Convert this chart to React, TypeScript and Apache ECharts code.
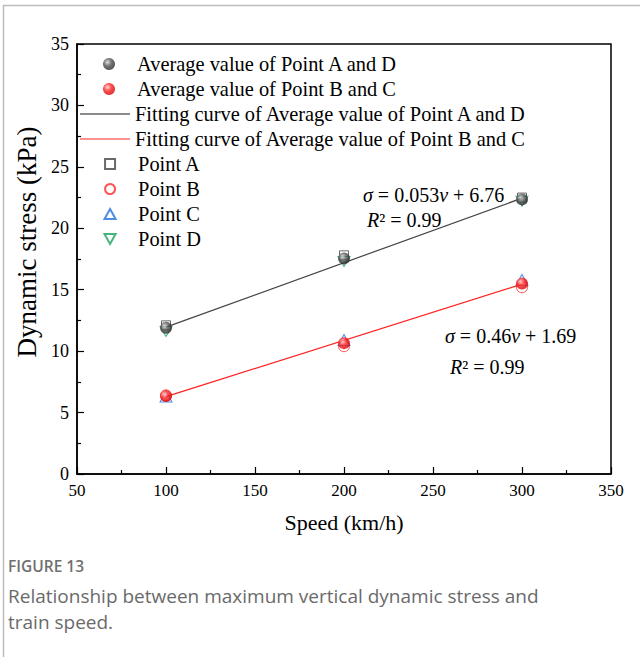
import React, { useEffect, useRef } from "react";
import * as echarts from "echarts";

const speeds = [100, 200, 300];
const pointA = [12.1, 17.8, 22.5];
const pointB = [6.4, 10.4, 15.2];
const pointC = [6.3, 10.9, 15.8];
const pointD = [11.6, 17.3, 22.2];
const avgAD = [11.9, 17.55, 22.35];
const avgBC = [6.35, 10.65, 15.5];
const fitSpeeds = [100, 300];
const fitAD = [11.95, 22.45];
const fitBC = [6.3, 15.45];

const nameAvgAD = "Average value of Point A and D";
const nameAvgBC = "Average value of Point B and C";
const nameFitAD = "Fitting curve of Average value of Point A and D";
const nameFitBC = "Fitting curve of Average value of Point B and C";
const nameA = "Point A";
const nameB = "Point B";
const nameC = "Point C";
const nameD = "Point D";

const SERIF = "'Liberation Serif', 'Times New Roman', serif";
const SANS = "'Open Sans', 'Noto Sans', sans-serif";

const pair = (xs: number[], ys: number[]) => xs.map((x, i) => [x, ys[i]]);

const sphere = (light: string, mid: string, dark: string) => ({
  type: "radial",
  x: 0.38,
  y: 0.35,
  r: 0.7,
  colorStops: [
    { offset: 0, color: light },
    { offset: 0.45, color: mid },
    { offset: 1, color: dark },
  ],
});

const squarePath = "path://M0,0 L10,0 L10,10 L0,10 Z";
const upTri = "path://M5,0 L10,9 L0,9 Z";
const downTri = "path://M0,0 L10,0 L5,9 Z";

export default function App() {
  const ref = useRef<HTMLDivElement>(null);
  useEffect(() => {
    if (!ref.current) return;
    const chart = echarts.init(ref.current, undefined, { renderer: "svg" });
    const legendText = () => ({ fontFamily: SERIF, fontSize: 20.4, color: "#000", lineHeight: 25 });
    const eqRich = {
      i: { fontFamily: SERIF, fontSize: 20, fontStyle: "italic", color: "#000" },
      n: { fontFamily: SERIF, fontSize: 20, color: "#000" },
    };
    chart.setOption({
      animation: false,
      backgroundColor: "#fff",
      grid: {
        left: 77,
        top: 44,
        width: 534,
        height: 430,
        show: true,
        borderColor: "#000",
        borderWidth: 1.5,
        backgroundColor: "transparent",
      },
      xAxis: {
        type: "value",
        min: 50,
        max: 350,
        interval: 50,
        name: "Speed (km/h)",
        nameLocation: "middle",
        nameGap: 37,
        nameTextStyle: { fontFamily: SERIF, fontSize: 22, color: "#000" },
        axisLine: { lineStyle: { color: "#000", width: 1.5 } },
        axisTick: { inside: true, length: 7, lineStyle: { color: "#000", width: 1.2 } },
        minorTick: { show: true, splitNumber: 2, length: 4, lineStyle: { color: "#000", width: 1.2 } },
        axisLabel: { fontFamily: SERIF, fontSize: 17, color: "#000", margin: 8 },
        splitLine: { show: false },
      },
      yAxis: {
        type: "value",
        min: 0,
        max: 35,
        interval: 5,
        name: "Dynamic stress (kPa)",
        nameLocation: "middle",
        nameGap: 26,
        nameTextStyle: { fontFamily: SERIF, fontSize: 27, color: "#000", padding: [0, 0, 0, 34] },
        axisLine: { show: true, lineStyle: { color: "#000", width: 1.5 } },
        axisTick: { show: true, inside: true, length: 7, lineStyle: { color: "#000", width: 1.2 } },
        minorTick: { show: true, splitNumber: 2, length: 4, lineStyle: { color: "#000", width: 1.2 } },
        axisLabel: { fontFamily: SERIF, fontSize: 18, color: "#000", margin: 8 },
        splitLine: { show: false },
      },
      legend: [
        {
          orient: "vertical",
          left: 103,
          top: 51.5,
          padding: 0,
          itemGap: 0,
          itemWidth: 46,
          itemHeight: 12,
          textStyle: legendText(),
          data: [
            { name: nameAvgAD, icon: "circle" },
            { name: nameAvgBC, icon: "circle" },
          ],
        },
        {
          orient: "vertical",
          left: 80,
          top: 101.5,
          padding: 0,
          itemGap: 0,
          itemWidth: 50,
          itemHeight: 1.3,
          symbolKeepAspect: false,
          textStyle: legendText(),
          data: [
            { name: nameFitAD, icon: "rect" },
            { name: nameFitBC, icon: "rect" },
          ],
        },
        {
          orient: "vertical",
          left: 103.5,
          top: 151.5,
          padding: 0,
          itemGap: 0,
          itemWidth: 46,
          itemHeight: 10,
          symbolKeepAspect: true,
          textStyle: legendText(),
          data: [
            { name: nameA, icon: squarePath },
            { name: nameB, icon: "circle" },
            { name: nameC, icon: upTri },
            { name: nameD, icon: downTri },
          ],
        },
      ],
      series: [
        {
          name: nameAvgAD,
          type: "scatter",
          symbol: "circle",
          symbolSize: 12,
          z: 5,
          itemStyle: { color: sphere("#d8d8d8", "#555", "#222") },
          data: pair(speeds, avgAD),
        },
        {
          name: nameAvgBC,
          type: "scatter",
          symbol: "circle",
          symbolSize: 12,
          z: 5,
          itemStyle: { color: sphere("#ffd0d0", "#f22", "#c00") },
          data: pair(speeds, avgBC),
        },
        {
          name: nameFitAD,
          type: "line",
          symbol: "none",
          z: 3,
          lineStyle: { color: "#444", width: 1.2 },
          itemStyle: { color: "#666" },
          data: pair(fitSpeeds, fitAD),
        },
        {
          name: nameFitBC,
          type: "line",
          symbol: "none",
          z: 3,
          lineStyle: { color: "#ff2020", width: 1.2 },
          itemStyle: { color: "#ff6b6b" },
          data: pair(fitSpeeds, fitBC),
        },
        {
          name: nameA,
          type: "scatter",
          symbol: "rect",
          symbolSize: 9,
          z: 2,
          itemStyle: { color: "rgba(255,255,255,0)", borderColor: "#444", borderWidth: 1 },
          data: pair(speeds, pointA),
        },
        {
          name: nameB,
          type: "scatter",
          symbol: "circle",
          symbolSize: 11,
          z: 2,
          itemStyle: { color: "rgba(255,255,255,0)", borderColor: "#ff2a2a", borderWidth: 1 },
          data: pair(speeds, pointB),
        },
        {
          name: nameC,
          type: "scatter",
          symbol: upTri,
          symbolSize: [12, 11],
          z: 2,
          itemStyle: { color: "rgba(255,255,255,0)", borderColor: "#1f6fe0", borderWidth: 1 },
          data: pair(speeds, pointC),
        },
        {
          name: nameD,
          type: "scatter",
          symbol: downTri,
          symbolSize: [12, 10],
          z: 2,
          itemStyle: { color: "rgba(255,255,255,0)", borderColor: "#16a05a", borderWidth: 1 },
          data: pair(speeds, pointD),
        },
      ],
      graphic: [
        { type: "line", shape: { x1: 3, y1: 5.5, x2: 640, y2: 5.5 }, style: { stroke: "#bdbdbd", lineWidth: 1.5 } },
        { type: "line", shape: { x1: 3.5, y1: 5, x2: 3.5, y2: 657 }, style: { stroke: "#bdbdbd", lineWidth: 1.5 } },
        {
          type: "text",
          x: 363,
          y: 195,
          style: {
            text: "{i|σ}{n| = 0.053}{i|v}{n| + 6.76}",
            rich: eqRich,
            verticalAlign: "middle",
          },
        },
        {
          type: "text",
          x: 367,
          y: 220,
          style: { text: "{i|R}{n|² = 0.99}", rich: eqRich, verticalAlign: "middle" },
        },
        {
          type: "text",
          x: 445,
          y: 336,
          style: {
            text: "{i|σ}{n| = 0.46}{i|v}{n| + 1.69}",
            rich: eqRich,
            verticalAlign: "middle",
          },
        },
        {
          type: "text",
          x: 450,
          y: 367,
          style: { text: "{i|R}{n|² = 0.99}", rich: eqRich, verticalAlign: "middle" },
        },
        {
          type: "text",
          x: 8,
          y: 566,
          style: {
            text: "FIGURE 13",
            fontFamily: SANS,
            fontSize: 15.5,
            fontWeight: 600,
            fill: "#707070",
            verticalAlign: "middle",
          },
        },
        {
          type: "text",
          x: 8,
          y: 596,
          style: {
            text: "Relationship between maximum vertical dynamic stress and",
            fontFamily: SANS,
            fontSize: 19,
            fill: "#6a6a6a",
            verticalAlign: "middle",
          },
        },
        {
          type: "text",
          x: 8,
          y: 622,
          style: {
            text: "train speed.",
            fontFamily: SANS,
            fontSize: 19,
            fill: "#6a6a6a",
            verticalAlign: "middle",
          },
        },
      ],
    });
    return () => chart.dispose();
  }, []);
  return (
    <div
      ref={ref}
      style={{ position: "absolute", left: 0, top: 0, width: 640, height: 657 }}
    />
  );
}
